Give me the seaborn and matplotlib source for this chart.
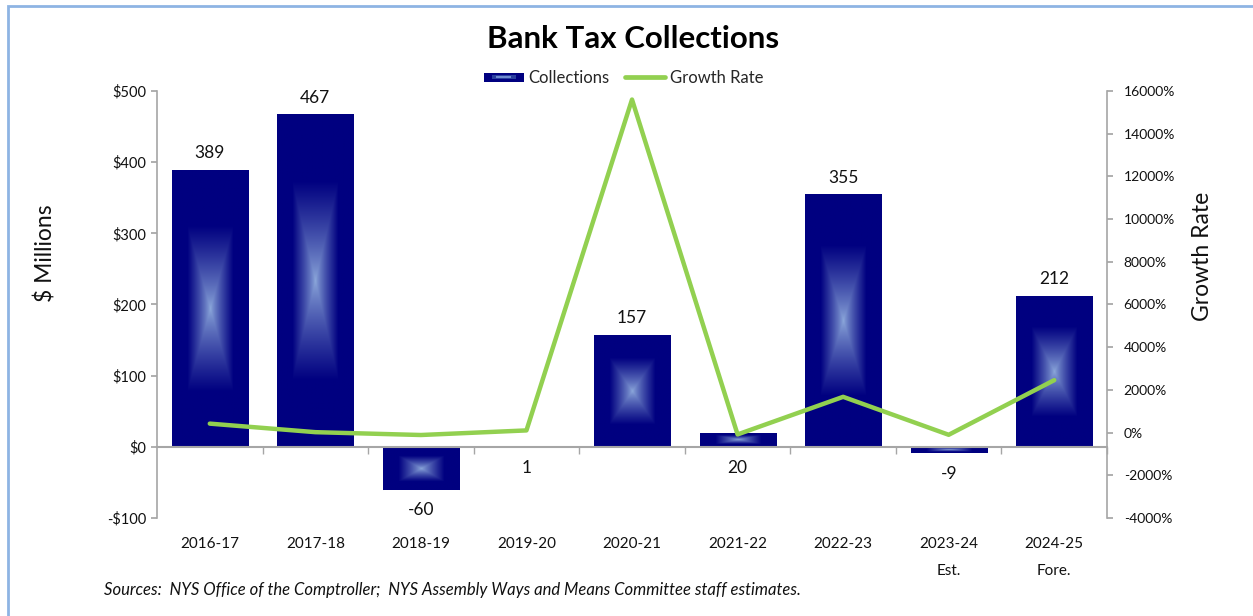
import numpy as np
import pandas as pd
import matplotlib
matplotlib.use("Agg")
import matplotlib.pyplot as plt
import matplotlib.ticker as mticker
from matplotlib.patches import Rectangle
from matplotlib.lines import Line2D
from matplotlib.legend_handler import HandlerBase
import seaborn as sns

# ---- data ----
years = ["2016-17", "2017-18", "2018-19", "2019-20", "2020-21",
         "2021-22", "2022-23", "2023-24", "2024-25"]
year_notes = ["", "", "", "", "", "", "", "Est.", "Fore."]
collections = [389, 467, -60, 1, 157, 20, 355, -9, 212]
growth_pct = [420, 20, -113, 102, 15600, -87, 1675, -103, 2456]
left_ticks = [-100, 0, 100, 200, 300, 400, 500]
right_ticks = [-4000, -2000, 0, 2000, 4000, 6000, 8000, 10000, 12000, 14000, 16000]

NAVY = "#000080"
LIGHT = "#8eaadc"
GREEN = "#92d050"
GRAY = "#a6a6a6"
FONT = ["Lato", "DejaVu Sans"]

sns.set_theme(style="white")
plt.rcParams["font.family"] = FONT

labels = [y if n == "" else f"{y}\n{n}" for y, n in zip(years, year_notes)]
df = pd.DataFrame({"year": labels, "collections": collections, "growth": growth_pct})

fig = plt.figure(figsize=(12.53, 6.16), dpi=100)
ax = fig.add_axes([0.1253, 0.1591, 0.7582, 0.6932])

sns.barplot(data=df, x="year", y="collections", color=NAVY, saturation=1,
            width=0.72, ax=ax, zorder=2)

# gradient fill inside each bar (rectangular path gradient)
n = 200
u = np.linspace(0, 1, n)
U, V = np.meshgrid(u, u)
t = np.clip(np.maximum(np.abs(U - 0.5), np.abs(V - 0.5)) / 0.3, 0, 1)
t = t ** 0.8
navy = np.array(matplotlib.colors.to_rgb(NAVY))
light = np.array(matplotlib.colors.to_rgb(LIGHT))
img = light[None, None, :] * (1 - t[..., None]) + navy[None, None, :] * t[..., None]
for p in ax.patches:
    x0, y0 = p.get_x(), p.get_y()
    w, h = p.get_width(), p.get_height()
    ylo, yhi = min(y0, y0 + h), max(y0, y0 + h)
    if yhi - ylo <= 0:
        continue
    im = ax.imshow(img, extent=[x0, x0 + w, ylo, yhi], aspect="auto",
                   origin="lower", zorder=2.5, interpolation="bilinear")
    im.set_clip_path(p)

ax.set_xlim(-0.5, len(years) - 0.5)
ax.set_ylim(left_ticks[0], left_ticks[-1])
ax.set_yticks(left_ticks)
ax.yaxis.set_major_formatter(mticker.FuncFormatter(
    lambda v, _: f"-${abs(v):.0f}" if v < 0 else f"${v:.0f}"))

# value labels
for i, v in enumerate(collections):
    if v >= 50:
        ax.annotate(f"{v}", (i, v), xytext=(0, 12), textcoords="offset points",
                    ha="center", va="center", fontsize=12.5, color="#111111")
    else:
        ax.annotate(f"{v}", (i, min(v, 0)), xytext=(0, -15), textcoords="offset points",
                    ha="center", va="center", fontsize=12.5, color="#111111")

# axes styling
for s in ["top", "right"]:
    ax.spines[s].set_visible(False)
ax.spines["left"].set_color(GRAY)
ax.spines["left"].set_linewidth(1.2)
ax.spines["bottom"].set_position(("data", 0))
ax.spines["bottom"].set_color(GRAY)
ax.spines["bottom"].set_linewidth(1.5)
ax.spines["bottom"].set_zorder(4)
ax.tick_params(axis="y", direction="out", length=4, colors=GRAY, left=True,
               labelsize=10.5, pad=4, labelcolor="#111111")
ax.set_xticks(np.arange(len(years)) + 0.5, minor=True)
ax.tick_params(axis="x", which="minor", direction="out", length=5, color=GRAY, bottom=True)
ax.tick_params(axis="x", which="major", length=0, pad=65, labelsize=11, labelcolor="#111111")
for tl in ax.get_xticklabels():
    tl.set_linespacing(2.15)
ax.set_xlabel("")
ax.set_ylabel("$ Millions", fontsize=16.5, color="#111111")
ax.yaxis.set_label_coords((57 - 157) / 950, (518 - 253) / 427)

# growth line
ax2 = ax.twinx()
sns.lineplot(data=df, x="year", y="growth", color=GREEN, linewidth=3.2,
             sort=False, ax=ax2, zorder=5)
ax2.set_ylim(right_ticks[0], right_ticks[-1])
ax2.set_yticks(right_ticks)
ax2.yaxis.set_major_formatter(mticker.FuncFormatter(lambda v, _: f"{v:.0f}%"))
for s in ["top", "left", "bottom"]:
    ax2.spines[s].set_visible(False)
ax2.spines["right"].set_color(GRAY)
ax2.spines["right"].set_linewidth(1.2)
ax2.tick_params(axis="y", direction="out", length=4, colors=GRAY, labelcolor="#111111",
                labelsize=10, right=True, pad=8)
ax2.set_ylabel("Growth Rate", fontsize=16.5, color="#111111")
ax2.yaxis.set_label_coords((1192 - 157) / 950, (518 - 256) / 427)
ax2.set_xlabel("")
ax2.grid(False)
ax.grid(False)


# legend with gradient-like patch
class GradHandler(HandlerBase):
    def create_artists(self, legend, orig, xd, yd, width, height, fontsize, trans):
        r1 = Rectangle((xd, yd + height * 0.1), width, height * 0.8, facecolor=NAVY,
                       edgecolor="none", transform=trans)
        r2 = Rectangle((xd + width * 0.2, yd + height * 0.35), width * 0.6, height * 0.3,
                       facecolor="#2a3f9e", edgecolor="none", transform=trans)
        r3 = Rectangle((xd + width * 0.32, yd + height * 0.43), width * 0.36, height * 0.14,
                       facecolor="#6f8bd0", edgecolor="none", transform=trans)
        return [r1, r2, r3]


bar_handle = Rectangle((0, 0), 1, 1, facecolor=NAVY)
line_handle = Line2D([0], [0], color=GREEN, linewidth=3.4)
fig.legend([bar_handle, line_handle], ["Collections", "Growth Rate"],
           handler_map={Rectangle: GradHandler()},
           loc="center", bbox_to_anchor=(0.4975, 1 - 78 / 616), ncol=2, frameon=False,
           fontsize=12, handlelength=2.4, handletextpad=0.3, columnspacing=0.9)

fig.text(0.505, 1 - 39 / 616, "Bank Tax Collections", ha="center", va="center",
         fontsize=22.5, fontweight="bold", color="#000000")
fig.text(104 / 1253, 1 - 590 / 616,
         "Sources:  NYS Office of the Comptroller;  NYS Assembly Ways and Means Committee staff estimates.",
         ha="left", va="center", fontsize=12, style="italic", color="#111111")

# outer frame
fig.patches.append(Rectangle((7.5 / 1253, -0.05), 1.2, 1 - 6 / 616 + 0.05,
                             transform=fig.transFigure, fill=False,
                             edgecolor="#8eb4e3", linewidth=2))

fig.savefig("out.png", dpi=100)
